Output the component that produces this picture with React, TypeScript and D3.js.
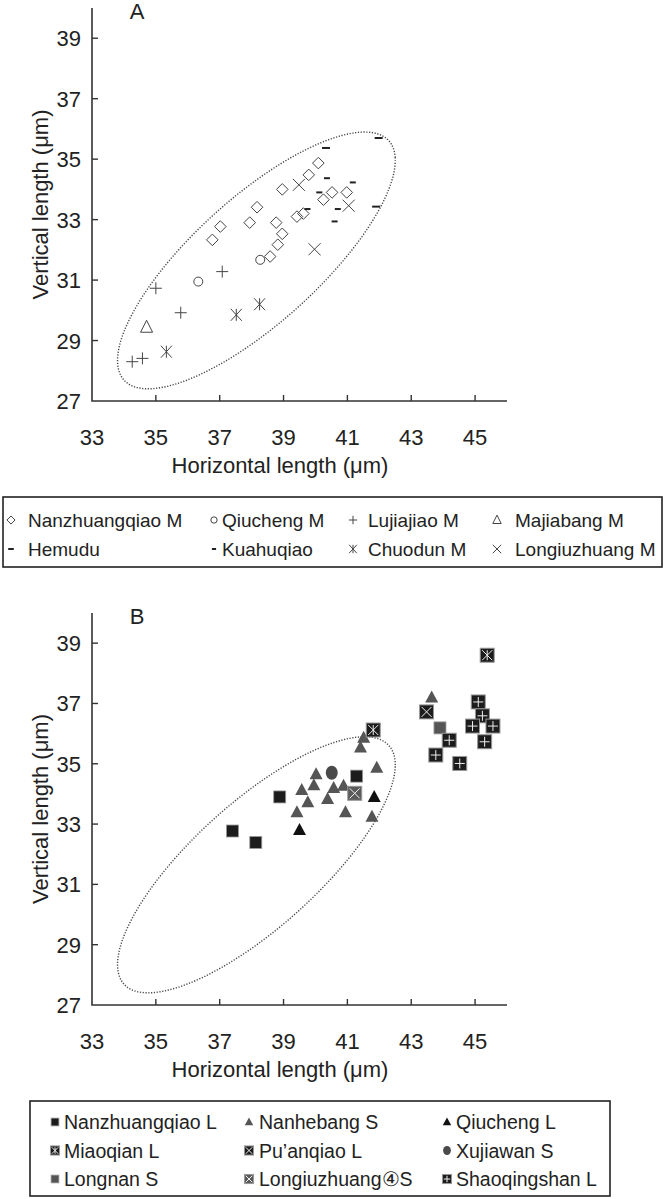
import * as d3 from 'd3';

// ---- panel A series (horizontal, vertical length in µm)
const nanzhuangqiaoM: [number, number][] = [
  [38.96, 34.0], [40.52, 33.9], [40.25, 33.66], [38.17, 33.41], [37.02, 32.77], [36.77, 32.33],
  [37.94, 32.9], [38.77, 32.9], [39.42, 33.1], [39.62, 33.2], [38.96, 32.53], [38.82, 32.17],
  [38.58, 31.78], [40.09, 34.87], [39.79, 34.48], [40.98, 33.9],
];
const qiuchengM: [number, number][] = [[38.27, 31.67], [36.33, 30.95]];
const lujiajiaoM: [number, number][] = [[37.08, 31.28], [35.0, 30.73], [35.78, 29.92], [34.26, 28.3], [34.58, 28.41]];
const majiabangM: [number, number][] = [[34.71, 29.44]];
const hemudu: [number, number][] = [[41.98, 35.7], [41.9, 33.43], [40.33, 35.37]];
const kuahuqiao: [number, number][] = [[41.17, 34.23], [40.7, 33.35], [40.6, 32.94], [40.36, 34.37], [40.12, 33.9], [39.75, 33.35]];
const chuodunM: [number, number][] = [[35.33, 28.63], [37.52, 29.85], [38.25, 30.2]];
const longiuzhuangM: [number, number][] = [[39.48, 34.15], [39.97, 32.02], [41.04, 33.46]];

// ---- panel B series
const nanzhuangqiaoL: [number, number][] = [[37.4, 32.77], [38.13, 32.39], [38.88, 33.9], [41.29, 34.59]];
const nanhebangS: [number, number][] = [
  [40.02, 34.65], [39.95, 34.29], [39.57, 34.13], [39.76, 33.72], [39.42, 33.39], [40.57, 34.2],
  [40.88, 34.27], [40.38, 33.83], [40.94, 33.39], [41.41, 35.54], [41.51, 35.86], [41.92, 34.87],
  [41.77, 33.24], [43.64, 37.2],
];
const qiuchengL: [number, number][] = [[39.5, 32.8], [41.84, 33.9]];
const miaoqianL: [number, number][] = [[41.81, 36.12], [45.38, 38.6]];
const puanqiaoL: [number, number][] = [[43.48, 36.72]];
const xujiawanS: [number, number][] = [[40.51, 34.7]];
const longnanS: [number, number][] = [[43.9, 36.19]];
const longiuzhuang4S: [number, number][] = [[41.23, 34.02]];
const shaoqingshanL: [number, number][] = [
  [44.19, 35.78], [43.77, 35.29], [45.1, 37.05], [45.23, 36.59], [44.92, 36.25], [45.56, 36.25],
  [45.3, 35.73], [44.52, 35.01],
];

const xTicks = [33, 35, 37, 39, 41, 43, 45];
const yTicks = [27, 29, 31, 33, 35, 37, 39];

// reference ellipse (centre, x half-width, y components)
const ellipseCentre = [38.15, 31.65];
const ellipseAxes = [4.35, 3.31, 2.66];

const FONT = '"Liberation Sans", Arial, Helvetica, sans-serif';
const INK = '#333';

type Kind =
  | 'diamond' | 'circle' | 'plus' | 'triangle' | 'dashLong' | 'dashShort' | 'asterX' | 'cross'
  | 'square' | 'triGray' | 'triBlack' | 'dot' | 'squareAster' | 'squareX' | 'squareGray' | 'squareGrayX' | 'squarePlus';

function Marker({ kind, x, y, s = 1 }: { kind: Kind; x: number; y: number; s?: number }) {
  const st = { stroke: '#444', strokeWidth: 1, fill: 'none' };
  const h = 5.8 * s;
  switch (kind) {
    case 'diamond':
      return <path d={`M${x},${y - h}L${x + h},${y}L${x},${y + h}L${x - h},${y}Z`} {...st} />;
    case 'circle':
      return <circle cx={x} cy={y} r={4.5 * s} {...st} />;
    case 'plus':
      return <path d={`M${x - 6 * s},${y}H${x + 6 * s}M${x},${y - 6 * s}V${y + 6 * s}`} {...st} />;
    case 'triangle':
      return <path d={`M${x},${y - 7 * s}L${x + 6 * s},${y + 5 * s}L${x - 6 * s},${y + 5 * s}Z`} {...st} />;
    case 'dashLong':
      return <path d={`M${x - 4 * s},${y}H${x + 4 * s}`} stroke="#222" strokeWidth={2} />;
    case 'dashShort':
      return <path d={`M${x - 3 * s},${y}H${x + 3 * s}`} stroke="#222" strokeWidth={2} />;
    case 'asterX':
      return (
        <path
          d={`M${x - 5.5 * s},${y - 6 * s}L${x + 5.5 * s},${y + 6 * s}M${x + 5.5 * s},${y - 6 * s}L${x - 5.5 * s},${y + 6 * s}M${x},${y - 6 * s}V${y + 6 * s}`}
          stroke="#444" strokeWidth={1} />
      );
    case 'cross':
      return <path d={`M${x - 6 * s},${y - 6 * s}L${x + 6 * s},${y + 6 * s}M${x + 6 * s},${y - 6 * s}L${x - 6 * s},${y + 6 * s}`} {...st} />;
    case 'square':
      return <rect x={x - 6 * s} y={y - 6 * s} width={12 * s} height={12 * s} fill="#1c1c1c" stroke="#999" strokeWidth={0.8} />;
    case 'squareGray':
      return <rect x={x - 6 * s} y={y - 6 * s} width={12 * s} height={12 * s} fill="#555" stroke="#999" strokeWidth={0.8} />;
    case 'triGray':
      return <path d={`M${x},${y - 7 * s}L${x + 6.5 * s},${y + 5 * s}L${x - 6.5 * s},${y + 5 * s}Z`} fill="#555" />;
    case 'triBlack':
      return <path d={`M${x},${y - 7 * s}L${x + 6.5 * s},${y + 5 * s}L${x - 6.5 * s},${y + 5 * s}Z`} fill="#111" />;
    case 'dot':
      return <ellipse cx={x} cy={y} rx={6 * s} ry={7 * s} fill="#4a4a4a" />;
    case 'squareAster':
    case 'squareX':
    case 'squareGrayX':
    case 'squarePlus': {
      const w = 7 * s;
      const fill = kind === 'squareGrayX' ? '#5a5a5a' : '#1c1c1c';
      const inner = 5 * s;
      let d = '';
      if (kind === 'squarePlus') d = `M${x - inner},${y}H${x + inner}M${x},${y - inner}V${y + inner}`;
      else {
        d = `M${x - inner},${y - inner}L${x + inner},${y + inner}M${x + inner},${y - inner}L${x - inner},${y + inner}`;
        if (kind === 'squareAster') d += `M${x},${y - inner}V${y + inner}`;
      }
      return (
        <g>
          <rect x={x - w} y={y - w} width={2 * w} height={2 * w} fill={fill} stroke="#999" strokeWidth={1} />
          <path d={d} stroke="#eee" strokeWidth={1} />
        </g>
      );
    }
  }
  return null;
}

interface PanelProps {
  label: string;
  top: number;
  bottom: number;
  series: { data: [number, number][]; kind: Kind }[];
}

function Panel({ label, top, bottom, series }: PanelProps) {
  const x = d3.scaleLinear().domain([33, 46]).range([92, 507]);
  const y = d3.scaleLinear().domain([27, 40]).range([bottom, top]);

  const pts = d3.range(0, 361, 2).map((deg) => {
    const t = (deg * Math.PI) / 180;
    return [
      ellipseCentre[0] + ellipseAxes[0] * Math.cos(t),
      ellipseCentre[1] + ellipseAxes[1] * Math.cos(t) + ellipseAxes[2] * Math.sin(t),
    ] as [number, number];
  });
  const ell = d3.line<[number, number]>().x((d) => x(d[0])).y((d) => y(d[1])).curve(d3.curveCardinalClosed)(pts);

  const x0 = x(33);
  const y0 = y(27);
  return (
    <g fontFamily={FONT}>
      <text x={137} y={y(40) + 11} fontSize={22} fill="#222" textAnchor="middle">{label}</text>
      <path d={ell || ''} fill="none" stroke="#444" strokeWidth={1.4} strokeDasharray="1.2,1.6" />
      {/* axes */}
      <path d={`M${x0},${y(40)}V${y0}H${x(46)}`} fill="none" stroke={INK} strokeWidth={1.6} />
      {yTicks.map((t) => (
        <g key={'y' + t}>
          {t > 27 && <line x1={x0} x2={x0 + 6} y1={y(t)} y2={y(t)} stroke={INK} strokeWidth={1.4} />}
          <text x={x0 - 11} y={y(t) + 8} fontSize={22} textAnchor="end" fill="#222">{t}</text>
        </g>
      ))}
      {xTicks.map((t) => (
        <g key={'x' + t}>
          {t > 33 && <line x1={x(t)} x2={x(t)} y1={y0} y2={y0 - 6} stroke={INK} strokeWidth={1.4} />}
          <text x={x(t)} y={y0 + 44} fontSize={22} textAnchor="middle" fill="#222">{t}</text>
        </g>
      ))}
      <text x={280} y={y0 + 72} fontSize={22} textAnchor="middle" fill="#222">Horizontal length (μm)</text>
      <text transform={`translate(48,${(top + bottom) / 2}) rotate(-90)`} fontSize={22} textAnchor="middle" fill="#222">
        Vertical length (μm)
      </text>
      {series.map((s, i) => (
        <g key={i}>
          {s.data.map((d, j) => (
            <Marker key={j} kind={s.kind} x={x(d[0])} y={y(d[1])} />
          ))}
        </g>
      ))}
    </g>
  );
}

const legendA: { name: string; kind: Kind; col: number; row: number }[] = [
  { name: 'Nanzhuangqiao M', kind: 'diamond', col: 0, row: 0 },
  { name: 'Qiucheng M', kind: 'circle', col: 1, row: 0 },
  { name: 'Lujiajiao M', kind: 'plus', col: 2, row: 0 },
  { name: 'Majiabang M', kind: 'triangle', col: 3, row: 0 },
  { name: 'Hemudu', kind: 'dashLong', col: 0, row: 1 },
  { name: 'Kuahuqiao', kind: 'dashShort', col: 1, row: 1 },
  { name: 'Chuodun M', kind: 'asterX', col: 2, row: 1 },
  { name: 'Longiuzhuang M', kind: 'cross', col: 3, row: 1 },
];
const legendB: { name: string; kind: Kind; col: number; row: number }[] = [
  { name: 'Nanzhuangqiao L', kind: 'square', col: 0, row: 0 },
  { name: 'Nanhebang S', kind: 'triGray', col: 1, row: 0 },
  { name: 'Qiucheng L', kind: 'triBlack', col: 2, row: 0 },
  { name: 'Miaoqian L', kind: 'squareAster', col: 0, row: 1 },
  { name: 'Pu’anqiao L', kind: 'squareX', col: 1, row: 1 },
  { name: 'Xujiawan S', kind: 'dot', col: 2, row: 1 },
  { name: 'Longnan S', kind: 'squareGray', col: 0, row: 2 },
  { name: 'Longiuzhuang④S', kind: 'squareGrayX', col: 1, row: 2 },
  { name: 'Shaoqingshan L', kind: 'squarePlus', col: 2, row: 2 },
];

export default function App() {
  const colA = [11, 214, 353, 497];
  const textA = [28, 222, 368, 515];
  const colB = [55, 249, 447];
  const textB = [64, 259, 456];
  return (
    <div style={{ position: 'absolute', left: 0, top: 0 }}>
      <svg width={667} height={1199} style={{ display: 'block', background: '#fff' }}>
        <Panel
          label="A"
          top={8}
          bottom={401}
          series={[
            { data: nanzhuangqiaoM, kind: 'diamond' },
            { data: qiuchengM, kind: 'circle' },
            { data: lujiajiaoM, kind: 'plus' },
            { data: majiabangM, kind: 'triangle' },
            { data: hemudu, kind: 'dashLong' },
            { data: kuahuqiao, kind: 'dashShort' },
            { data: chuodunM, kind: 'asterX' },
            { data: longiuzhuangM, kind: 'cross' },
          ]}
        />
        <g fontFamily={FONT}>
          <rect x={3} y={497} width={659} height={70} fill="none" stroke="#222" strokeWidth={1.6} />
          {legendA.map((l) => (
            <g key={l.name}>
              <Marker kind={l.kind} x={colA[l.col]} y={520 + l.row * 29} s={0.7} />
              <text x={textA[l.col]} y={527 + l.row * 29} fontSize={19} fill="#222">{l.name}</text>
            </g>
          ))}
        </g>
        <Panel
          label="B"
          top={613}
          bottom={1005}
          series={[
            { data: nanhebangS, kind: 'triGray' },
            { data: qiuchengL, kind: 'triBlack' },
            { data: xujiawanS, kind: 'dot' },
            { data: nanzhuangqiaoL, kind: 'square' },
            { data: longnanS, kind: 'squareGray' },
            { data: longiuzhuang4S, kind: 'squareGrayX' },
            { data: puanqiaoL, kind: 'squareX' },
            { data: miaoqianL, kind: 'squareAster' },
            { data: shaoqingshanL, kind: 'squarePlus' },
          ]}
        />
        <g fontFamily={FONT}>
          <rect x={30} y={1101} width={580} height={95} fill="none" stroke="#222" strokeWidth={1.6} />
          {legendB.map((l) => (
            <g key={l.name}>
              <Marker kind={l.kind} x={colB[l.col]} y={1122 + l.row * 28.5} s={0.65} />
              <text x={textB[l.col]} y={1129 + l.row * 28.5} fontSize={19.5} fill="#222">{l.name}</text>
            </g>
          ))}
        </g>
      </svg>
    </div>
  );
}
